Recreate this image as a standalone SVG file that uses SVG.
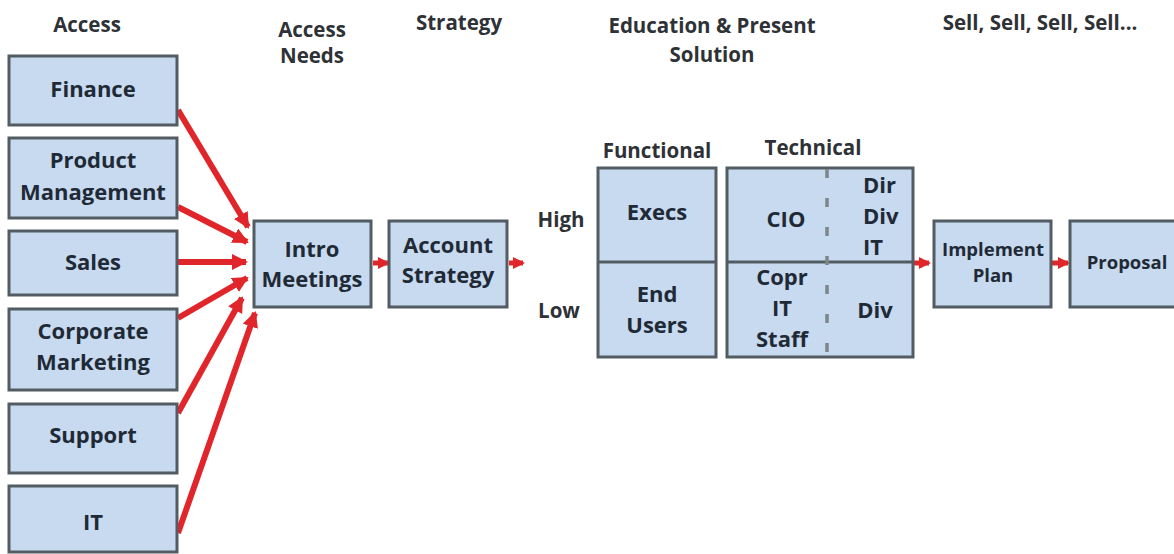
<svg xmlns="http://www.w3.org/2000/svg" width="1174" height="554" viewBox="0 0 1174 554">
<style>
.box{fill:#c7daef;stroke:#535c63;stroke-width:3}
.t{font-family:"Open Sans","Liberation Sans",sans-serif;font-weight:700;fill:#1f2a36;text-anchor:middle;font-size:22px}
.h{font-family:"Open Sans","Liberation Sans",sans-serif;font-weight:700;fill:#2e3237;text-anchor:middle;font-size:20.5px}
.s{font-size:18.5px}
.st{text-anchor:start}
.ar{stroke:#e1262b;stroke-width:6;fill:none}
.ars{stroke:#e1262b;stroke-width:5;fill:none}
.dash{stroke:#7d868c;stroke-width:3.5;stroke-dasharray:9 20}
</style>
<defs>
<marker id="ah" markerUnits="userSpaceOnUse" markerWidth="18" markerHeight="18" refX="14" refY="8" orient="auto">
<path d="M0,0 L16,8 L0,16 z" fill="#e1262b"/>
</marker>
<marker id="ahs" markerUnits="userSpaceOnUse" markerWidth="14" markerHeight="14" refX="10" refY="6" orient="auto">
<path d="M0,0 L12,6 L0,12 z" fill="#e1262b"/>
</marker>
</defs>
<rect width="1174" height="554" fill="#ffffff"/>
<g id="headers">
<text class="h" x="87" y="32">Access</text>
<text class="h" x="312" y="37">Access</text>
<text class="h" x="312" y="63">Needs</text>
<text class="h" x="459" y="30">Strategy</text>
<text class="h" x="712" y="33">Education &amp; Present</text>
<text class="h" x="712" y="62">Solution</text>
<text class="h" x="1040" y="30">Sell, Sell, Sell, Sell...</text>
<text class="h" x="657" y="158">Functional</text>
<text class="h" x="813" y="155">Technical</text>
<text class="h" x="561" y="227">High</text>
<text class="h" x="559" y="318">Low</text>
</g>
<g id="connectors">
<line class="ar" x1="178" y1="110" x2="248" y2="227" marker-end="url(#ah)"/>
<line class="ar" x1="178" y1="207" x2="247" y2="242" marker-end="url(#ah)"/>
<line class="ar" x1="178" y1="262" x2="246" y2="262" marker-end="url(#ah)"/>
<line class="ar" x1="178" y1="318" x2="247" y2="278" marker-end="url(#ah)"/>
<line class="ar" x1="178" y1="413" x2="242" y2="298" marker-end="url(#ah)"/>
<line class="ar" x1="178" y1="533" x2="255" y2="313" marker-end="url(#ah)"/>
<line class="ars" x1="373" y1="263" x2="388" y2="263" marker-end="url(#ahs)"/>
<line class="ars" x1="509" y1="263" x2="523" y2="263" marker-end="url(#ahs)"/>
<line class="ars" x1="914" y1="263" x2="929" y2="263" marker-end="url(#ahs)"/>
<line class="ars" x1="1052" y1="263" x2="1068" y2="263" marker-end="url(#ahs)"/>
</g>
<g id="finance"><rect class="box" x="9" y="56" width="168" height="69"/><text class="t" x="93" y="97">Finance</text></g>
<g id="product-management"><rect class="box" x="9" y="138" width="168" height="80"/><text class="t" x="93" y="168">Product</text><text class="t" x="93" y="200">Management</text></g>
<g id="sales"><rect class="box" x="9" y="231" width="168" height="64"/><text class="t" x="93" y="270">Sales</text></g>
<g id="corporate-marketing"><rect class="box" x="9" y="309" width="168" height="81"/><text class="t" x="93" y="339">Corporate</text><text class="t" x="93" y="370">Marketing</text></g>
<g id="support"><rect class="box" x="9" y="404" width="168" height="69"/><text class="t" x="93" y="443">Support</text></g>
<g id="it"><rect class="box" x="9" y="486" width="168" height="66"/><text class="t" x="93" y="530">IT</text></g>
<g id="intro-meetings"><rect class="box" x="254" y="221" width="117" height="86"/><text class="t" x="312" y="257">Intro</text><text class="t" x="312" y="287">Meetings</text></g>
<g id="account-strategy"><rect class="box" x="389" y="221" width="118" height="86"/><text class="t" x="448" y="253">Account</text><text class="t" x="448" y="283">Strategy</text></g>
<g id="functional">
<rect class="box" x="598" y="168" width="118" height="189"/>
<line x1="598" y1="262" x2="716" y2="262" stroke="#535c63" stroke-width="3"/>
<text class="t" x="657" y="220">Execs</text>
<text class="t" x="657" y="302">End</text>
<text class="t" x="657" y="333">Users</text>
</g>
<g id="technical">
<rect class="box" x="727" y="168" width="186" height="189"/>
<line x1="727" y1="262" x2="913" y2="262" stroke="#535c63" stroke-width="3"/>
<line class="dash" x1="827" y1="169" x2="827" y2="357"/>
<text class="t" x="786" y="227">CIO</text>
<text class="t st" x="863" y="193">Dir</text>
<text class="t st" x="863" y="224">Div</text>
<text class="t st" x="863" y="255">IT</text>
<text class="t" x="782" y="285">Copr</text>
<text class="t" x="782" y="316">IT</text>
<text class="t" x="782" y="347">Staff</text>
<text class="t" x="875" y="318">Div</text>
</g>
<g id="implement-plan"><rect class="box" x="934" y="221" width="117" height="86"/><text class="t s" x="993" y="256">Implement</text><text class="t s" x="993" y="282">Plan</text></g>
<g id="proposal"><rect class="box" x="1070" y="221" width="112" height="86"/><text class="t s" x="1127" y="269">Proposal</text></g>
</svg>
